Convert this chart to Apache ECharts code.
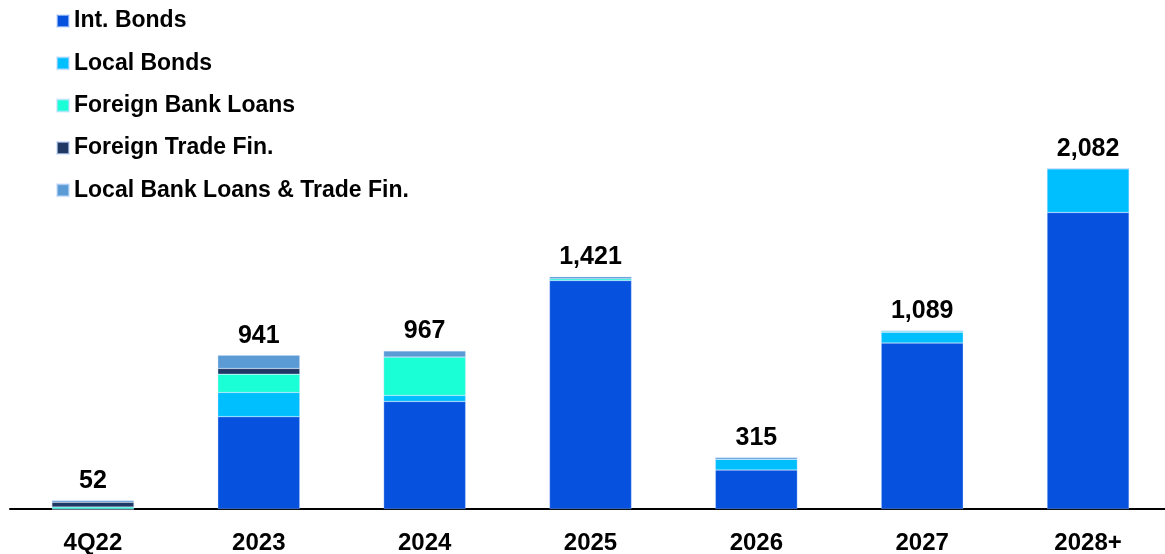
<!DOCTYPE html>
<html>
<head>
<meta charset="utf-8">
<script src="https://cdn.jsdelivr.net/npm/echarts@6/dist/echarts.min.js"></script>
<style>
html,body{margin:0;padding:0;background:#fff;}
#c{width:1165px;height:554px;}
</style>
</head>
<body>
<div id="c"></div>
<script>
const categories = ['4Q22', '2023', '2024', '2025', '2026', '2027', '2028+'];
const intBonds        = [0, 565, 658, 1398, 238, 1015, 1814];
const localBonds      = [0, 148, 37, 0, 67, 66, 268];
const foreignBankLoans= [12, 112, 235, 11, 0, 8, 0];
const foreignTradeFin = [30, 35, 0, 0, 0, 0, 0];
const localBankLoans  = [10, 81, 37, 12, 10, 0, 0];
const totals          = [52, 941, 967, 1421, 315, 1089, 2082];

const font = '"Liberation Sans", Arial, sans-serif';
const chart = echarts.init(document.getElementById('c'), null, {renderer: 'canvas'});

function seg(name, data, color) {
  return {
    name: name, type: 'bar', stack: 'total', data: data, barWidth: 82,
    itemStyle: {color: color, borderColor: 'rgba(200,220,255,0.6)', borderWidth: 0.5},
    emphasis: {disabled: true}
  };
}

const option = {
  animation: false,
  backgroundColor: '#ffffff',
  grid: {left: 10, right: -6, top: 102, bottom: 45, containLabel: false, outerBoundsMode: 'none'},
  legend: {
    orient: 'vertical', left: 51, top: 4, itemWidth: 12, itemHeight: 12, itemGap: 18.3,
    icon: 'rect',
    data: ['Int. Bonds', 'Local Bonds', 'Foreign Bank Loans', 'Foreign Trade Fin.', 'Local Bank Loans & Trade Fin.'],
    textStyle: {fontFamily: font, fontWeight: 'bold', fontSize: 23, color: '#000', lineHeight: 24}
  },
  xAxis: {
    type: 'category', data: categories,
    axisLine: {show: true, lineStyle: {color: '#000', width: 2}},
    axisTick: {show: false},
    axisLabel: {fontFamily: font, fontWeight: 'bold', fontSize: 24, color: '#000', margin: 22}
  },
  yAxis: {
    type: 'value', min: 0, max: 2490, show: false, splitLine: {show: false}
  },
  series: [
    seg('Int. Bonds', intBonds, '#0652DF'),
    seg('Local Bonds', localBonds, '#00BFFF'),
    seg('Foreign Bank Loans', foreignBankLoans, '#1AFFD5'),
    seg('Foreign Trade Fin.', foreignTradeFin, '#203864'),
    seg('Local Bank Loans & Trade Fin.', localBankLoans, '#5B9BD5'),
    {
      name: 'Total', type: 'bar', stack: 'total', barWidth: 82,
      data: totals.map(() => 0),
      itemStyle: {color: 'transparent'},
      label: {
        show: true, position: 'top', distance: 7,
        fontFamily: font, fontWeight: 'bold', fontSize: 25, color: '#000',
        formatter: p => totals[p.dataIndex].toLocaleString('en-US')
      },
      emphasis: {disabled: true}
    }
  ]
};
chart.setOption(option);
</script>
</body>
</html>
